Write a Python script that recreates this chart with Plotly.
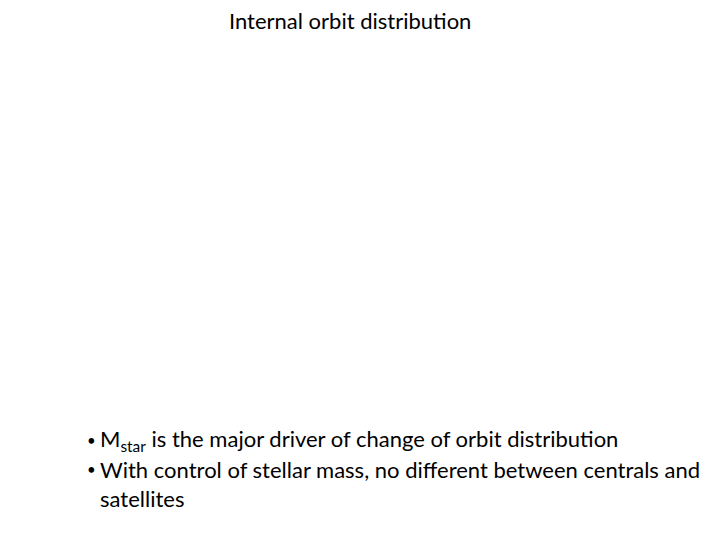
import plotly.graph_objects as go

title_text = "Internal orbit distribution"
bullet_lines = [
    "M<sub>star</sub> is the major driver of change of orbit distribution",
    "With control of stellar mass, no different between centrals and",
]
continuation_lines = ["satellites"]

W, H = 720, 540
OFF = 8  # page margin around the figure
FONT = "Lato, Open Sans, sans-serif"
SIZE = 22

fig = go.Figure()


def px(x):
    return (x - OFF) / W


def py(y):
    return 1 - (y - OFF) / H


annotations = [
    dict(
        text=title_text,
        x=px(350),
        y=py(5),
        xanchor="center",
        yanchor="top",
        font={"size": SIZE, "color": "#000000", "family": FONT},
    )
]

line_y = [440, 469]
for text, y in zip(bullet_lines, line_y):
    annotations.append(
        dict(
            text="•",
            x=px(91),
            y=py(y),
            xanchor="center",
            yanchor="middle",
            font={"size": 15, "color": "#000000", "family": FONT},
        )
    )
    annotations.append(
        dict(
            text=text,
            x=px(98),
            y=py(y),
            xanchor="left",
            yanchor="middle",
            font={"size": SIZE, "color": "#000000", "family": FONT},
        )
    )

for i, text in enumerate(continuation_lines):
    annotations.append(
        dict(
            text=text,
            x=px(98),
            y=py(498 + 29 * i),
            xanchor="left",
            yanchor="middle",
            font={"size": SIZE, "color": "#000000", "family": FONT},
        )
    )

for a in annotations:
    a.update(xref="paper", yref="paper", showarrow=False)

fig.update_layout(
    width=W,
    height=H,
    margin={"l": 0, "r": 0, "t": 0, "b": 0},
    paper_bgcolor="white",
    plot_bgcolor="white",
    xaxis={"visible": False},
    yaxis={"visible": False},
    annotations=annotations,
    showlegend=False,
)

fig.write_html("out.html")
